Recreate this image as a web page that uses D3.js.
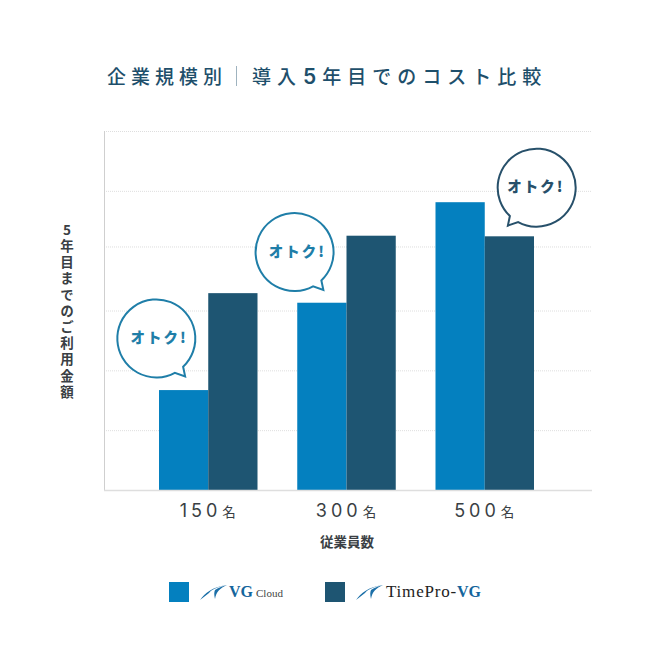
<!DOCTYPE html>
<html>
<head>
	<meta charset="utf-8">
	<title>企業規模別 導入5年目でのコスト比較</title>
	<script src="https://d3js.org/d3.v7.min.js"></script>
	<style>
		html, body { margin: 0; padding: 0; background: #fff; }
		svg { display: block; font-family: "Noto Sans CJK JP", sans-serif; }
	</style>
</head>
<body>
<div id="chart"></div>
<script>
	var categories = ["150", "300", "500"];
	var seriesNames = ["VG Cloud", "TimePro-VG"];
	var vgCloud = [1.67, 3.13, 4.81];
	var timePro = [3.29, 4.25, 4.24];
	var gridValues = [1, 2, 3, 4.07, 5, 6];

	var colors = ["#0480bf", "#1e5572"];
	var bubbleColors = ["#1f7ea8", "#1f7ea8", "#27506a"];
	var ink = "#3a3f44";

	var width = 651, height = 662;
	var svg = d3.select("#chart").append("svg")
		.attr("width", width)
		.attr("height", height);

	var x = d3.scaleBand().domain(categories).range([159, 534]).paddingInner(0.2875);
	var y = d3.scaleLinear().domain([0, 6]).range([490, 131]);

	// title
	svg.append("text")
		.attr("x", 107).attr("y", 84)
		.attr("font-size", 19).attr("font-weight", 500)
		.attr("letter-spacing", 5).attr("fill", "#1e4f6b")
		.text("企業規模別");
	svg.append("line")
		.attr("x1", 236.5).attr("x2", 236.5).attr("y1", 66).attr("y2", 86)
		.attr("stroke", "#9fb3bf").attr("stroke-width", 1);
	var title2 = svg.append("text")
		.attr("x", 252).attr("y", 84)
		.attr("font-size", 19).attr("font-weight", 500)
		.attr("letter-spacing", 6).attr("fill", "#1e4f6b");
	title2.append("tspan").text("導入");
	title2.append("tspan")
		.attr("dx", 1).attr("font-family", "Inter").attr("font-size", 21).attr("font-weight", 600)
		.text("5");
	title2.append("tspan").attr("dx", 0).text("年目でのコスト比較");

	// grid
	svg.append("g").selectAll("line").data(gridValues).join("line")
		.attr("x1", 104).attr("x2", 592)
		.attr("y1", function(d) { return y(d) + 0.5; })
		.attr("y2", function(d) { return y(d) + 0.5; })
		.attr("stroke", "#dedede").attr("stroke-dasharray", "1 1");
	svg.append("line")
		.attr("x1", 104.5).attr("x2", 104.5).attr("y1", y(6)).attr("y2", y(0))
		.attr("stroke", "#cfcfcf");

	// bars
	var barWidth = x.bandwidth() / 2;
	[vgCloud, timePro].forEach(function(values, s) {
		svg.append("g").selectAll("rect").data(values).join("rect")
			.attr("x", function(d, i) { return x(categories[i]) + s * barWidth; })
			.attr("y", function(d) { return y(d); })
			.attr("width", barWidth)
			.attr("height", function(d) { return y(0) - y(d); })
			.attr("fill", colors[s]);
	});
	svg.append("line")
		.attr("x1", 104).attr("x2", 592).attr("y1", 490.5).attr("y2", 490.5)
		.attr("stroke", "#dedede").attr("stroke-width", 1.4);

	// speech bubbles point at the cheaper bar of each group
	var bubbleLift = [13, 12, 10];
	categories.forEach(function(c, i) {
		var lowerIsFirst = vgCloud[i] < timePro[i];
		var low = Math.min(vgCloud[i], timePro[i]);
		var tipX = x(c) + barWidth * (lowerIsFirst ? 0.5 : 1.5);
		var tipY = y(low) - bubbleLift[i];
		var dir = lowerIsFirst ? -1 : 1;
		var cx = tipX + dir * 25.5, cy = tipY - 40;
		var g = svg.append("g").attr("transform", "translate(" + cx + "," + cy + ")");
		g.append("path")
			.attr("transform", "scale(" + (-dir) + ",1)")
			.attr("d", "M25,29.7L27,39.3L16.7,35.7A39,39 0 1 1 25,29.7Z")
			.attr("fill", "#fff")
			.attr("stroke", bubbleColors[i]).attr("stroke-width", 2);
		g.append("text")
			.attr("x", 1).attr("y", 6)
			.attr("text-anchor", "middle")
			.attr("font-size", 14.5).attr("font-weight", 900)
			.attr("letter-spacing", 2)
			.attr("fill", bubbleColors[i])
			.text("オトク!");
	});

	// category labels
	var labels = svg.append("g").selectAll("text").data(categories).join("text")
		.attr("x", function(d) { return x(d) + x.bandwidth() / 2 - 0.5; })
		.attr("y", 517)
		.attr("text-anchor", "middle")
		.attr("fill", ink);
	labels.append("tspan")
		.attr("font-family", "Inter").attr("font-size", 18)
		.attr("letter-spacing", 4)
		.text(function(d) { return d; });
	labels.append("tspan")
		.attr("font-size", 13.5).attr("dx", 1)
		.text("名");

	// axis titles
	svg.append("text")
		.attr("x", 347).attr("y", 547)
		.attr("text-anchor", "middle")
		.attr("font-size", 13.5).attr("font-weight", 700)
		.attr("fill", ink)
		.text("従業員数");
	svg.append("text")
		.attr("x", 67).attr("y", 223)
		.style("writing-mode", "vertical-rl")
		.style("text-orientation", "upright")
		.attr("font-size", 13.5).attr("font-weight", 700)
		.attr("letter-spacing", 2.7)
		.attr("fill", ink)
		.text("5年目までのご利用金額");

	// legend
	var swoosh = ["M0,16C5,9 12,3 27,1C18,3 12,5 9,9C6,11 3,14 0,16Z",
		"M27,1C20,4 16,8 15,15C14,11 14,8 15,6C18,4 22,2 27,1Z"];
	[169, 325].forEach(function(lx, s) {
		svg.append("rect")
			.attr("x", lx).attr("y", 582).attr("width", 20).attr("height", 20)
			.attr("fill", colors[s]);
		svg.append("g")
			.attr("transform", "translate(" + (lx + 31) + ",584)")
			.selectAll("path").data(swoosh).join("path")
			.attr("d", function(d) { return d; })
			.attr("fill", "#1b6fa8");
	});
	var serif = "Liberation Serif";
	var leg1 = svg.append("text").attr("x", 229).attr("y", 597).attr("font-family", serif);
	leg1.append("tspan").attr("font-size", 16).attr("font-weight", 700).attr("fill", "#14659c").text("VG");
	leg1.append("tspan").attr("font-size", 11).attr("dx", 3).attr("fill", "#444").text("Cloud");
	var leg2 = svg.append("text").attr("x", 386).attr("y", 597).attr("font-family", serif);
	leg2.append("tspan").attr("font-size", 17).attr("letter-spacing", 0.8).attr("fill", "#222").text("TimePro-");
	leg2.append("tspan").attr("font-size", 16).attr("font-weight", 700).attr("fill", "#14659c").text("VG");
</script>
</body>
</html>
